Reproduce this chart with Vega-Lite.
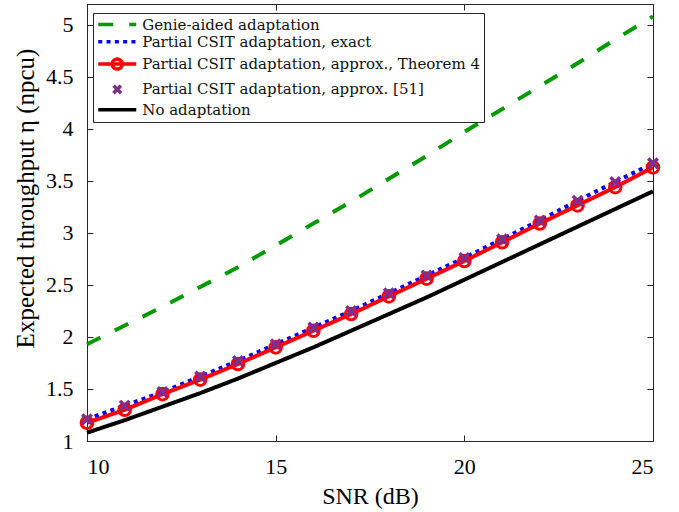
{
  "$schema": "https://vega.github.io/schema/vega-lite/v6.json",
  "width": 566,
  "height": 437,
  "autosize": {"type": "none"},
  "padding": {"left": 87, "top": 4, "right": 26, "bottom": 71},
  "background": "white",
  "config": {
    "view": {"stroke": "#262626", "strokeWidth": 1},
    "axis": {
      "grid": false,
      "domainColor": "#262626",
      "tickColor": "#262626",
      "tickSize": -6,
      "labelFont": "Liberation Serif",
      "labelFontSize": 22,
      "labelColor": "#000000",
      "titleFont": "Liberation Serif",
      "titleFontSize": 24,
      "titleFontWeight": "normal",
      "titleColor": "#000000"
    }
  },
  "data": {
    "values": [
      {"snr": 10, "genie": 1.93, "exact": 1.21, "thm4": 1.175, "ref51": 1.21, "none": 1.08},
      {"snr": 11, "genie": 2.11, "exact": 1.34, "thm4": 1.30, "ref51": 1.34, "none": 1.20},
      {"snr": 12, "genie": 2.29, "exact": 1.47, "thm4": 1.45, "ref51": 1.47, "none": 1.33},
      {"snr": 13, "genie": 2.48, "exact": 1.62, "thm4": 1.59, "ref51": 1.62, "none": 1.46},
      {"snr": 14, "genie": 2.67, "exact": 1.77, "thm4": 1.74, "ref51": 1.77, "none": 1.60},
      {"snr": 15, "genie": 2.88, "exact": 1.93, "thm4": 1.90, "ref51": 1.93, "none": 1.75},
      {"snr": 16, "genie": 3.09, "exact": 2.09, "thm4": 2.06, "ref51": 2.09, "none": 1.90},
      {"snr": 17, "genie": 3.30, "exact": 2.25, "thm4": 2.22, "ref51": 2.25, "none": 2.06},
      {"snr": 18, "genie": 3.52, "exact": 2.42, "thm4": 2.39, "ref51": 2.42, "none": 2.22},
      {"snr": 19, "genie": 3.74, "exact": 2.59, "thm4": 2.56, "ref51": 2.59, "none": 2.38},
      {"snr": 20, "genie": 3.97, "exact": 2.76, "thm4": 2.73, "ref51": 2.76, "none": 2.55},
      {"snr": 21, "genie": 4.19, "exact": 2.94, "thm4": 2.91, "ref51": 2.94, "none": 2.72},
      {"snr": 22, "genie": 4.41, "exact": 3.12, "thm4": 3.09, "ref51": 3.12, "none": 2.89},
      {"snr": 23, "genie": 4.63, "exact": 3.31, "thm4": 3.265, "ref51": 3.31, "none": 3.06},
      {"snr": 24, "genie": 4.86, "exact": 3.49, "thm4": 3.44, "ref51": 3.49, "none": 3.23},
      {"snr": 25, "genie": 5.08, "exact": 3.67, "thm4": 3.63, "ref51": 3.67, "none": 3.40}
    ]
  },
  "transform": [
    {"fold": ["genie", "exact", "thm4", "ref51", "none"], "as": ["series", "eta"]}
  ],
  "layer": [
    {
      "transform": [{"filter": "datum.series !== 'ref51'"}],
      "mark": {"type": "line", "strokeWidth": 4, "strokeCap": "butt"},
      "encoding": {
        "x": {
          "field": "snr", "type": "quantitative",
          "scale": {"domain": [10, 25], "nice": false, "zero": false},
          "axis": {"orient": "bottom", "values": [10, 15, 20, 25], "title": "SNR (dB)", "labelPadding": 21, "titleX": 283, "titleY": 62, "titleBaseline": "alphabetic", "titleAlign": "center"}
        },
        "y": {
          "field": "eta", "type": "quantitative",
          "scale": {"domain": [1, 5.2], "nice": false, "zero": false},
          "axis": {"orient": "left", "values": [1, 1.5, 2, 2.5, 3, 3.5, 4, 4.5, 5], "labelExpr": "'' + datum.value", "labelPadding": 20, "title": "Expected throughput η (npcu)", "titleFontSize": 25, "titleX": -54, "titleY": 194, "titleAngle": 270, "titleBaseline": "alphabetic", "titleAlign": "center"}
        },
        "color": {
          "field": "series", "type": "nominal",
          "scale": {"domain": ["genie", "exact", "thm4", "ref51", "none"], "range": ["#009900", "#0000FF", "#FF0000", "#7E2F8E", "#000000"]},
          "legend": {
            "title": null,
            "orient": "none",
            "legendX": 6,
            "legendY": 9,
            "padding": 4,
            "strokeColor": "#262626",
            "fillColor": "white",
            "labelFont": "DejaVu Serif",
            "labelFontSize": 15,
            "labelColor": "#111111",
            "labelLimit": 400,
            "symbolSize": 100,
            "symbolStrokeWidth": 3.5,
            "symbolOffset": 12.75,
            "labelOffset": 17.5,
            "rowPadding": 1.3,
            "labelExpr": "datum.value === 'genie' ? 'Genie-aided adaptation' : datum.value === 'exact' ? 'Partial CSIT adaptation, exact' : datum.value === 'thm4' ? 'Partial CSIT adaptation, approx., Theorem 4' : datum.value === 'ref51' ? 'Partial CSIT adaptation, approx. [51]' : 'No adaptation'",
            "encode": {
              "symbols": {
                "update": {
                  "shape": {"signal": "datum.value === 'thm4' ? 'M-3.8,0L3.8,0M1,0A1,1,0,1,1,-1,0A1,1,0,1,1,1,0' : datum.value === 'ref51' ? 'M-0.75,-0.75L0.75,0.75M0.75,-0.75L-0.75,0.75' : 'M-3.8,0L3.8,0'"},
                  "strokeDash": {"signal": "datum.value === 'genie' ? [14, 18] : datum.value === 'exact' ? [4, 4.3] : [1, 0]"},
                  "fill": {"value": "transparent"},
                  "stroke": {"scale": "color", "field": "value"},
                  "strokeWidth": {"value": 3.5},
                  "size": {"value": 100},
                  "opacity": {"value": 1}
                }
              }
            }
          }
        },
        "strokeDash": {
          "field": "series", "type": "nominal",
          "scale": {"domain": ["genie", "exact", "thm4", "ref51", "none"], "range": [[15, 16], [4, 4.3], [1, 0], [1, 0], [1, 0]]},
          "legend": null
        }
      }
    },
    {
      "transform": [{"filter": "datum.series === 'thm4'"}],
      "mark": {"type": "point", "shape": "circle", "filled": false, "color": "#FF0000", "strokeWidth": 3, "size": 135, "opacity": 1},
      "encoding": {
        "x": {"field": "snr", "type": "quantitative", "axis": {"orient": "top", "values": [10, 15, 20, 25], "labels": false, "title": null}},
        "y": {"field": "eta", "type": "quantitative", "axis": {"orient": "right", "values": [1, 1.5, 2, 2.5, 3, 3.5, 4, 4.5, 5], "labels": false, "title": null}}
      }
    },
    {
      "transform": [{"filter": "datum.series === 'ref51'"}],
      "mark": {"type": "point", "shape": "M-1,-1L1,1M1,-1L-1,1", "filled": false, "color": "#7E2F8E", "strokeWidth": 3.5, "size": 90, "opacity": 1},
      "encoding": {
        "x": {"field": "snr", "type": "quantitative", "axis": null},
        "y": {"field": "eta", "type": "quantitative", "axis": null}
      }
    }
  ],
  "resolve": {"axis": {"x": "independent", "y": "independent"}}
}
